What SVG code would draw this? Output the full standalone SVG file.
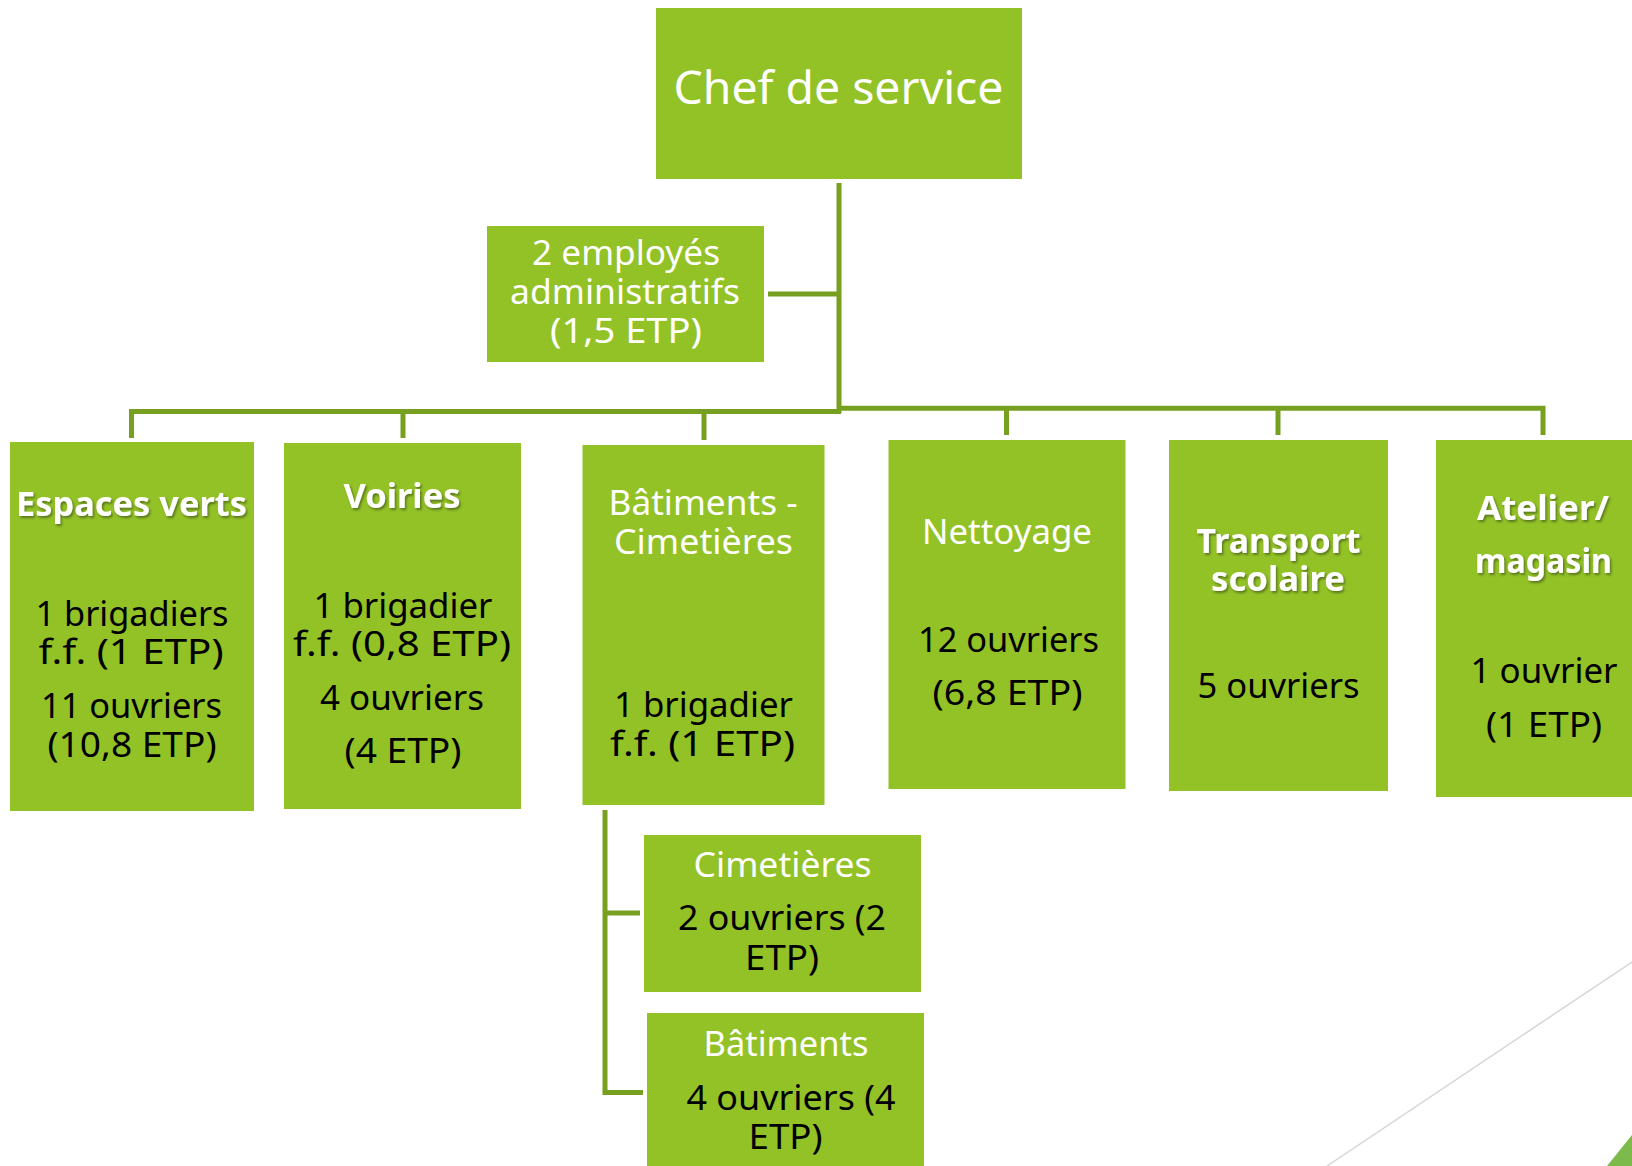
<svg xmlns="http://www.w3.org/2000/svg" width="1632" height="1166" viewBox="0 0 1632 1166">
<defs>
<filter id="sh" x="-10%" y="-20%" width="130%" height="160%">
<feDropShadow dx="1.5" dy="2" stdDeviation="1" flood-color="#2a3a10" flood-opacity="0.55"/>
</filter>
<style>
.box{fill:#93c227;}
.conn{fill:none;stroke:#77a020;stroke-width:5;}
text{font-family:"Noto Sans","DejaVu Sans",sans-serif;text-anchor:middle;}
.w{fill:#ffffff;font-size:34px;}
.hb{fill:#ffffff;font-size:34px;font-weight:bold;filter:url(#sh);}
.b{fill:#000000;font-size:34px;}
</style>
</defs>
<rect width="1632" height="1166" fill="#ffffff"/>
<g id="decor">
<line x1="1327" y1="1166" x2="1632" y2="962" stroke="#d6d6d6" stroke-width="1.5"/>
<polygon points="1607,1166 1632,1166 1632,1135" fill="#7dba4c"/>
</g>
<g id="connectors">
<line class="conn" x1="839" y1="183" x2="839" y2="413"/>
<line class="conn" x1="768" y1="294" x2="839" y2="294"/>
<path class="conn" d="M131.5,438 V411.5 H841" stroke-width="5.5"/>
<path class="conn" d="M837,408.3 H1543 V435"/>
<line class="conn" x1="403" y1="411" x2="403" y2="438"/>
<line class="conn" x1="704" y1="411" x2="704" y2="440"/>
<line class="conn" x1="1006.5" y1="408" x2="1006.5" y2="435"/>
<line class="conn" x1="1278" y1="408" x2="1278" y2="435"/>
<path class="conn" d="M605,810 V1092.5 H643"/>
<line class="conn" x1="605" y1="913" x2="640" y2="913"/>
</g>
<g id="chef">
<rect class="box" x="656" y="8" width="366" height="171"/>
<text class="w" x="838.5" y="104" style="font-size:46px" textLength="330" lengthAdjust="spacingAndGlyphs">Chef de service</text>
</g>
<g id="admin">
<rect class="box" x="487" y="226" width="277" height="136"/>
<text class="w" x="626" y="265" textLength="188" lengthAdjust="spacingAndGlyphs">2 employés</text>
<text class="w" x="625" y="304" textLength="230" lengthAdjust="spacingAndGlyphs">administratifs</text>
<text class="w" x="626" y="343" textLength="152" lengthAdjust="spacingAndGlyphs">(1,5 ETP)</text>
</g>
<g id="espaces-verts">
<rect class="box" x="10" y="442" width="244" height="369"/>
<text class="hb" x="131.5" y="516" textLength="231" lengthAdjust="spacingAndGlyphs">Espaces verts</text>
<text class="b" x="132" y="626" textLength="193" lengthAdjust="spacingAndGlyphs">1 brigadiers</text>
<text class="b" x="131" y="664" textLength="185" lengthAdjust="spacingAndGlyphs">f.f. (1 ETP)</text>
<text class="b" x="131.5" y="718" textLength="181" lengthAdjust="spacingAndGlyphs">11 ouvriers</text>
<text class="b" x="132" y="757" textLength="169" lengthAdjust="spacingAndGlyphs">(10,8 ETP)</text>
</g>
<g id="voiries">
<rect class="box" x="284" y="443" width="237" height="366"/>
<text class="hb" x="402" y="508" textLength="117" lengthAdjust="spacingAndGlyphs">Voiries</text>
<text class="b" x="403" y="618" textLength="179" lengthAdjust="spacingAndGlyphs">1 brigadier</text>
<text class="b" x="402" y="656" textLength="218" lengthAdjust="spacingAndGlyphs">f.f. (0,8 ETP)</text>
<text class="b" x="402" y="710" textLength="164" lengthAdjust="spacingAndGlyphs">4 ouvriers</text>
<text class="b" x="403" y="763" textLength="117" lengthAdjust="spacingAndGlyphs">(4 ETP)</text>
</g>
<g id="batiments-cimetieres">
<rect class="box" x="582.5" y="445" width="242" height="360"/>
<text class="w" x="703" y="515" textLength="189" lengthAdjust="spacingAndGlyphs">Bâtiments -</text>
<text class="w" x="703.5" y="554" textLength="179" lengthAdjust="spacingAndGlyphs">Cimetières</text>
<text class="b" x="703.5" y="717" textLength="179" lengthAdjust="spacingAndGlyphs">1 brigadier</text>
<text class="b" x="702.5" y="756" textLength="185" lengthAdjust="spacingAndGlyphs">f.f. (1 ETP)</text>
</g>
<g id="nettoyage">
<rect class="box" x="888.5" y="440" width="237" height="349"/>
<text class="w" x="1007" y="544" textLength="170" lengthAdjust="spacingAndGlyphs">Nettoyage</text>
<text class="b" x="1008.5" y="652" textLength="181" lengthAdjust="spacingAndGlyphs">12 ouvriers</text>
<text class="b" x="1007.5" y="705" textLength="150" lengthAdjust="spacingAndGlyphs">(6,8 ETP)</text>
</g>
<g id="transport">
<rect class="box" x="1169" y="440" width="219" height="351"/>
<text class="hb" x="1278.5" y="553" textLength="164" lengthAdjust="spacingAndGlyphs">Transport</text>
<text class="hb" x="1278" y="591" textLength="134" lengthAdjust="spacingAndGlyphs">scolaire</text>
<text class="b" x="1278.5" y="698" textLength="162" lengthAdjust="spacingAndGlyphs">5 ouvriers</text>
</g>
<g id="atelier">
<rect class="box" x="1436" y="440" width="210" height="357"/>
<text class="hb" x="1543" y="520" textLength="132" lengthAdjust="spacingAndGlyphs">Atelier/</text>
<text class="hb" x="1543.5" y="573" textLength="137" lengthAdjust="spacingAndGlyphs">magasin</text>
<text class="b" x="1544" y="683" textLength="147" lengthAdjust="spacingAndGlyphs">1 ouvrier</text>
<text class="b" x="1544" y="737" textLength="116" lengthAdjust="spacingAndGlyphs">(1 ETP)</text>
</g>
<g id="cimetieres">
<rect class="box" x="644" y="835" width="277" height="157"/>
<text class="w" x="782.5" y="877" textLength="178" lengthAdjust="spacingAndGlyphs">Cimetières</text>
<text class="b" x="782" y="930" textLength="208" lengthAdjust="spacingAndGlyphs">2 ouvriers (2</text>
<text class="b" x="782" y="970" textLength="74" lengthAdjust="spacingAndGlyphs">ETP)</text>
</g>
<g id="batiments">
<rect class="box" x="647" y="1013" width="277" height="160"/>
<text class="w" x="786" y="1056" textLength="165" lengthAdjust="spacingAndGlyphs">Bâtiments</text>
<text class="b" x="791" y="1110" textLength="209" lengthAdjust="spacingAndGlyphs">4 ouvriers (4</text>
<text class="b" x="785.5" y="1149" textLength="74" lengthAdjust="spacingAndGlyphs">ETP)</text>
</g>
</svg>
